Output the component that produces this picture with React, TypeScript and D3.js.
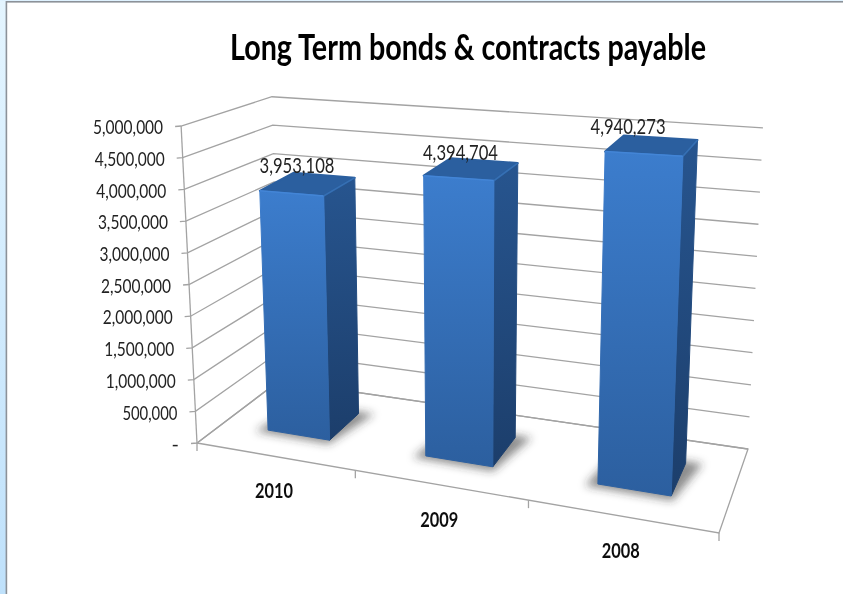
import React from "react";
import * as d3 from "d3";

const title = "Long Term bonds & contracts payable";
const categories = ["2010", "2009", "2008"];
const values = [3953108, 4394704, 4940273];
const valueLabels = ["3,953,108", "4,394,704", "4,940,273"];
const tickValues = [0, 500000, 1000000, 1500000, 2000000, 2500000, 3000000, 3500000, 4000000, 4500000, 5000000];
const labelShift: [number, number][] = [[-11, -20], [-11, -19], [-24, -21]];

const W = 843, H = 594;
type Pt = [number, number];
// floor corners on the picture: front-left, front-right, back-right, back-left
const Q: Pt[] = [[197, 443], [719, 533], [748, 449], [279, 381]];
const VP: Pt = [443, 7003];
const FRONT_HEIGHT = 317;
const BAR_RATIO_FRONT = 0.973;
const BAR_RATIO_BACK = 0.987;

const dx1 = Q[1][0] - Q[2][0], dx2 = Q[3][0] - Q[2][0], sx = Q[0][0] - Q[1][0] + Q[2][0] - Q[3][0];
const dy1 = Q[1][1] - Q[2][1], dy2 = Q[3][1] - Q[2][1], sy = Q[0][1] - Q[1][1] + Q[2][1] - Q[3][1];
const den = dx1 * dy2 - dx2 * dy1;
const g = (sx * dy2 - dx2 * sy) / den, h = (dx1 * sy - sx * dy1) / den;
const a = Q[1][0] - Q[0][0] + g * Q[1][0], b = Q[3][0] - Q[0][0] + h * Q[3][0];
const d = Q[1][1] - Q[0][1] + g * Q[1][1], e = Q[3][1] - Q[0][1] + h * Q[3][1];

const heightScale = d3.scaleLinear().domain([0, 5000000]).range([0, FRONT_HEIGHT]);
const uWarp = d3.scaleLinear().domain([0, 1 / 3, 2 / 3, 1]).range([0, 0.342, 0.675, 1]);

function project(u0: number, v: number, val = 0, ratio = 1): Pt {
  const u = uWarp(u0);
  const w = g * u + h * v + 1;
  const x = (a * u + b * v + Q[0][0]) / w;
  const y = (d * u + e * v + Q[0][1]) / w;
  const up = (heightScale(val) * ratio * (1 + 0.007 * v - 0.034 * u * v)) / w;
  const lean = (x - VP[0]) / (VP[1] - y);
  const extra = -4 * (1 - u) * (1 - v) * (up / FRONT_HEIGHT);
  return [x + lean * up + extra, y - up];
}
const poly = (pts: Pt[]) => pts.map((p) => p.map((n) => n.toFixed(1)).join(",")).join(" ");
const seg = d3.line();

const catU = d3.scaleBand<string>().domain(categories).range([0, 1]).paddingInner(0).paddingOuter(0);
const BAR = 0.4;
const V0 = 0.3, V1 = 0.7;
const GRID = "#a3a3a3";
const FONT = "Lato, 'Noto Sans', sans-serif";

export default function App() {
  const bw = catU.bandwidth();
  return (
    <svg width={W} height={H} style={{ position: "fixed", left: 0, top: 0, display: "block", background: "#fff" }}>
      <defs>
        <linearGradient id="win" x1="0" y1="0" x2="0" y2="1">
          <stop offset="0" stopColor="#e4f5ff" />
          <stop offset="1" stopColor="#bfe1fb" />
        </linearGradient>
        <linearGradient id="front" x1="0" y1="0" x2="0" y2="1">
          <stop offset="0" stopColor="#3c7dcd" />
          <stop offset="1" stopColor="#2c5f9f" />
        </linearGradient>
        <linearGradient id="side" x1="0" y1="0" x2="0" y2="1">
          <stop offset="0" stopColor="#27558f" />
          <stop offset="1" stopColor="#1c3e6b" />
        </linearGradient>
        <filter id="shadow" x="-30%" y="-60%" width="160%" height="220%">
          <feGaussianBlur stdDeviation="4" />
        </filter>
        <filter id="soft" x="-2%" y="-2%" width="104%" height="104%">
          <feGaussianBlur stdDeviation="0.35" />
        </filter>
      </defs>
      <rect x={0} y={0} width={W} height={H} fill="#fff" />
      <rect x={0} y={0} width={6} height={H} fill="url(#win)" />
      <rect x={0} y={0} width={W} height={1} fill="#dff2ff" />
      <rect x={6} y={1} width={W - 6} height={1.6} fill="#8c9299" />
      <rect x={5.6} y={1} width={1.6} height={H} fill="#8c9299" />

      <g filter="url(#soft)">
        <text x={468} y={59.5} textAnchor="middle" fontFamily={FONT} fontWeight={700} fontSize={36} fill="#000"
          textLength={476} lengthAdjust="spacingAndGlyphs">{title}</text>

        {tickValues.map((t) => {
          const p0 = project(0, 0, t), p1 = project(0, 1, t), p2 = project(1, 1, t);
          return (
            <g key={t}>
              <path d={seg([[p0[0] - 6, p0[1] + 0.5], p0, p1, p2]) ?? ""} fill="none" stroke={GRID} strokeWidth={1.3} />
              <text x={p0[0] - 18} y={p0[1] + 1} dy="0.36em" textAnchor="end" fontFamily={FONT} fontSize={20} fill="#222"
                {...(t > 0 ? { textLength: t >= 1000000 ? 70 : 55, lengthAdjust: "spacingAndGlyphs" } : {})}>
                {t === 0 ? "-" : d3.format(",")(t)}
              </text>
            </g>
          );
        })}
        <path d={seg([project(0, 0, 5000000), project(0, 0, 0)]) ?? ""} fill="none" stroke={GRID} strokeWidth={1.3} />
        <polygon points={poly([project(0, 0), project(1, 0), project(1, 1), project(0, 1)])} fill="#fff" fillOpacity={0} stroke={GRID} strokeWidth={1.3} />
        {[0, 1, 2, 3].map((i) => {
          const p = project(i / 3, 0);
          return <path key={i} d={seg([p, [p[0], p[1] + 8]]) ?? ""} stroke={GRID} strokeWidth={1.3} fill="none" />;
        })}
        {categories.map((c) => {
          const p = project((catU(c) ?? 0) + bw / 2, 0);
          return (
            <text key={c} x={p[0]} y={p[1] + 35} dy="0.36em" textAnchor="middle" fontFamily={FONT} fontWeight={700} fontSize={20} fill="#111"
              textLength={38} lengthAdjust="spacingAndGlyphs">{c}</text>
          );
        })}
      </g>

      {categories.map((c, i) => {
        const start = catU(c) ?? 0;
        const u0 = start + (bw * (1 - BAR)) / 2, u1 = u0 + bw * BAR;
        const val = values[i];
        const shadow = [project(u0 - 0.02, V0 - 0.04), project(u1 + 0.006, V0 - 0.05), project(u1 + 0.03, V1 + 0.03), project(u0, V1 + 0.03)];
        const fb0 = project(u0, V0), fb1 = project(u1, V0), bb1 = project(u1, V1);
        const ft0 = project(u0, V0, val, BAR_RATIO_FRONT), ft1 = project(u1, V0, val, BAR_RATIO_FRONT);
        const bt1 = project(u1, V1, val, BAR_RATIO_BACK), bt0 = project(u0, V1, val, BAR_RATIO_BACK);
        const topC = project((u0 + u1) / 2, (V0 + V1) / 2, val, BAR_RATIO_FRONT);
        return (
          <g key={c}>
            <polygon points={poly(shadow)} fill="#2f2f2f" fillOpacity={0.55} filter="url(#shadow)" />
            <polygon points={poly([ft1, bt1, bb1, fb1])} fill="url(#side)" stroke="url(#side)" strokeWidth={1} strokeLinejoin="round" />
            <polygon points={poly([ft0, ft1, bt1, bt0])} fill="#2b5f9f" stroke="#2b5f9f" strokeWidth={2} strokeLinejoin="round" />
            <polygon points={poly([ft0, ft1, fb1, fb0])} fill="url(#front)" stroke="url(#front)" strokeWidth={1} strokeLinejoin="round" />
            <path d={seg([ft0, ft1]) ?? ""} stroke="#4385d6" strokeWidth={1.5} fill="none" />
            <path d={seg([ft1, bt1]) ?? ""} stroke="#3670b4" strokeWidth={1.5} fill="none" />
            <text x={topC[0] + labelShift[i][0]} y={topC[1] + labelShift[i][1]} dy="0.36em" textAnchor="middle"
              fontFamily={FONT} fontSize={21} fill="#222" textLength={75} lengthAdjust="spacingAndGlyphs" filter="url(#soft)">{valueLabels[i]}</text>
          </g>
        );
      })}
    </svg>
  );
}
